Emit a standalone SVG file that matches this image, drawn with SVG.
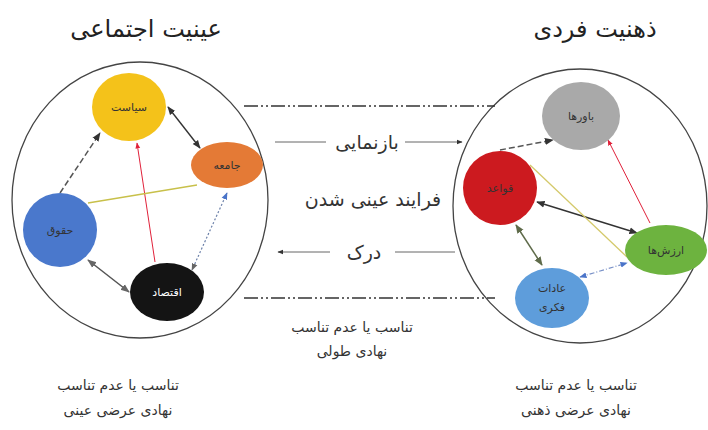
<svg xmlns="http://www.w3.org/2000/svg" width="708" height="430" viewBox="0 0 708 430">
<style>
text{font-family:"DejaVu Sans","Noto Sans",sans-serif;text-anchor:middle;fill:#222}
.title{font-size:24px}
.mid{font-size:19px;fill:#333}
.cap{font-size:14px;fill:#333}
.nl{font-size:11px;fill:#333}
.big{fill:none;stroke:#444;stroke-width:1.3}
.dd{stroke:#333;stroke-width:1.3;stroke-dasharray:14 3 2 3 2 3}
.thin{stroke:#666;stroke-width:1}
</style>
<defs>
<marker id="aDk" viewBox="0 0 10 10" refX="9" refY="5" markerWidth="6" markerHeight="6" orient="auto-start-reverse"><path d="M0,1L10,5L0,9z" fill="#333"/></marker>
<marker id="aRd" viewBox="0 0 10 10" refX="9" refY="5" markerWidth="6" markerHeight="6" orient="auto-start-reverse"><path d="M0,1L10,5L0,9z" fill="#e0213a"/></marker>
<marker id="aBl" viewBox="0 0 10 10" refX="9" refY="5" markerWidth="6" markerHeight="6" orient="auto-start-reverse"><path d="M0,1L10,5L0,9z" fill="#4a74c9"/></marker>
<marker id="aGr" viewBox="0 0 10 10" refX="9" refY="5" markerWidth="6" markerHeight="6" orient="auto-start-reverse"><path d="M0,1L10,5L0,9z" fill="#666"/></marker>
<marker id="aOl" viewBox="0 0 10 10" refX="9" refY="5" markerWidth="6" markerHeight="6" orient="auto-start-reverse"><path d="M0,1L10,5L0,9z" fill="#5f6b4a"/></marker>
</defs>
<rect width="708" height="430" fill="#fff"/>

<g id="titles">
<text class="title" x="146" y="37">عینیت اجتماعی</text>
<text class="title" x="595" y="37">ذهنیت فردی</text>
</g>

<g id="frames">
<ellipse class="big" cx="140" cy="200" rx="128" ry="138"/>
<ellipse class="big" cx="580" cy="206" rx="127" ry="137"/>
</g>

<g id="connectors">
<line class="dd" x1="244" y1="106" x2="495" y2="106"/>
<line class="dd" x1="244" y1="298" x2="495" y2="298"/>
<line class="thin" x1="275" y1="142" x2="326" y2="142"/>
<line class="thin" x1="405" y1="142" x2="462" y2="142" marker-end="url(#aDk)"/>
<line class="thin" x1="330" y1="252" x2="278" y2="252" marker-end="url(#aDk)"/>
<line class="thin" x1="395" y1="252" x2="455" y2="252"/>
<line x1="60" y1="193" x2="100" y2="133" stroke="#555" stroke-width="1.5" stroke-dasharray="6 3" marker-end="url(#aDk)"/>
<line x1="168" y1="107" x2="200" y2="148" stroke="#333" stroke-width="1.4" marker-start="url(#aDk)" marker-end="url(#aDk)"/>
<line x1="155" y1="262" x2="137" y2="143" stroke="#e0213a" stroke-width="1" marker-end="url(#aRd)"/>
<line x1="227" y1="193" x2="192" y2="270" stroke="#6a7fa8" stroke-width="1.2" stroke-dasharray="2 2" marker-start="url(#aBl)" marker-end="url(#aGr)"/>
<line x1="88" y1="203" x2="197" y2="185" stroke="#c8c04a" stroke-width="1.3"/>
<line x1="88" y1="260" x2="129" y2="292" stroke="#555" stroke-width="1.5" marker-start="url(#aGr)" marker-end="url(#aGr)"/>
<line x1="500" y1="150" x2="553" y2="140" stroke="#555" stroke-width="1.5" stroke-dasharray="6 3" marker-end="url(#aDk)"/>
<line x1="650" y1="223" x2="608" y2="140" stroke="#e0213a" stroke-width="1" marker-end="url(#aRd)"/>
<line x1="537" y1="202" x2="637" y2="233" stroke="#333" stroke-width="1.4" marker-start="url(#aDk)" marker-end="url(#aDk)"/>
<line x1="530" y1="165" x2="627" y2="257" stroke="#d4c96a" stroke-width="1.3"/>
<line x1="516" y1="225" x2="542" y2="265" stroke="#5f6b4a" stroke-width="1.5" marker-start="url(#aOl)" marker-end="url(#aOl)"/>
<line x1="580" y1="277" x2="627" y2="263" stroke="#7a92c8" stroke-width="1.2" stroke-dasharray="5 2 1 2" marker-start="url(#aBl)" marker-end="url(#aBl)"/>
</g>

<g id="n-siasat"><ellipse cx="129" cy="107" rx="37" ry="34" fill="#f4c21a"/><text class="nl" x="129" y="111">سیاست</text></g>
<g id="n-jameeh"><ellipse cx="227" cy="165" rx="36" ry="23" fill="#e47a36"/><text class="nl" x="227" y="169">جامعه</text></g>
<g id="n-hoghugh"><ellipse cx="60" cy="230" rx="37" ry="37" fill="#4a78cc"/><text class="nl" x="60" y="234">حقوق</text></g>
<g id="n-eghtesad"><ellipse cx="167" cy="292" rx="37" ry="29" fill="#141414"/><text class="nl" x="167" y="296" style="fill:#fff">اقتصاد</text></g>

<g id="n-bavarha"><ellipse cx="581" cy="116" rx="39" ry="34" fill="#a9a9a9"/><text class="nl" x="581" y="120">باورها</text></g>
<g id="n-ghavaed"><ellipse cx="500" cy="188" rx="37" ry="37" fill="#cc1a1f"/><text class="nl" x="500" y="192">قواعد</text></g>
<g id="n-arzeshha"><ellipse cx="666" cy="250" rx="41" ry="25" fill="#6db33f"/><text class="nl" x="666" y="254">ارزش‌ها</text></g>
<g id="n-adat"><ellipse cx="552" cy="298" rx="37" ry="30" fill="#5e9ddb"/><text class="nl" x="552" y="292">عادات</text><text class="nl" x="552" y="311">فکری</text></g>

<g id="mid-labels">
<text class="mid" x="367" y="149">بازنمایی</text>
<text class="mid" x="373" y="206">فرایند عینی شدن</text>
<text class="mid" x="364" y="259">درک</text>
</g>

<g id="captions">
<text class="cap" x="352" y="332">تناسب یا عدم تناسب</text>
<text class="cap" x="352" y="356">نهادی طولی</text>
<text class="cap" x="118" y="390">تناسب یا عدم تناسب</text>
<text class="cap" x="118" y="415">نهادی عرضی عینی</text>
<text class="cap" x="576" y="390">تناسب یا عدم تناسب</text>
<text class="cap" x="576" y="415">نهادی عرضی ذهنی</text>
</g>
</svg>
